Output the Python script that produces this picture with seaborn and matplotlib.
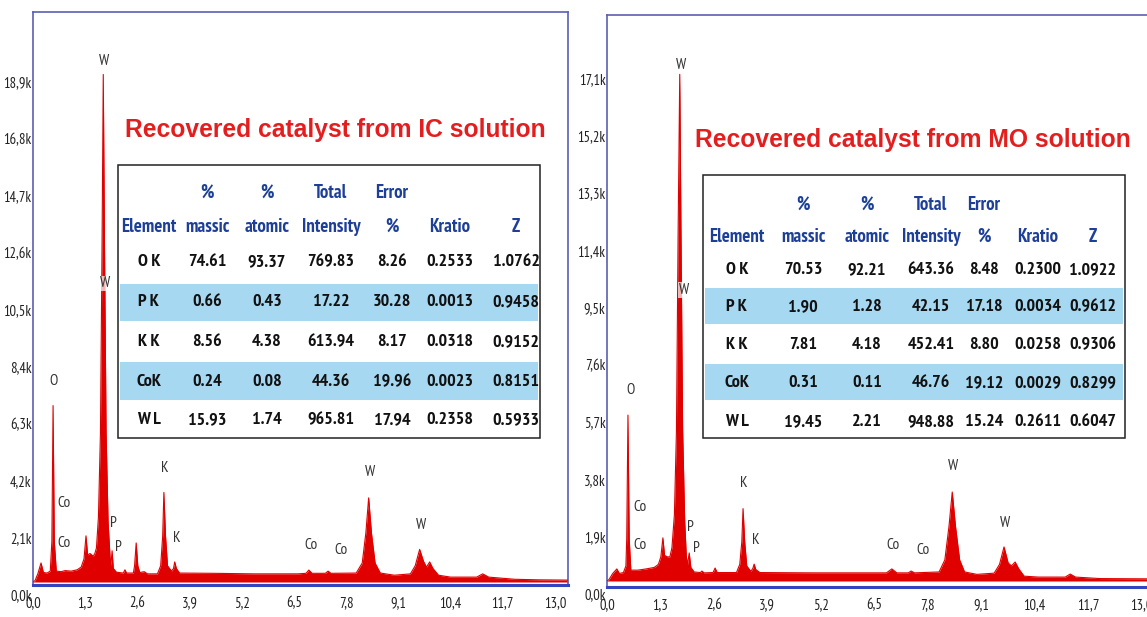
import matplotlib
matplotlib.use("Agg")
import matplotlib.pyplot as plt
import matplotlib.transforms as mtransforms
from matplotlib.patches import Rectangle
import pandas as pd
import seaborn as sns

# ---------------- EDS spectra (energy in keV, counts in thousands) ----------------
ic_energy = [0.00, 0.05, 0.12, 0.20, 0.26, 0.35, 0.43, 0.47, 0.50, 0.53, 0.58, 0.70, 0.80, 0.95,
             1.10, 1.20, 1.27, 1.32, 1.36, 1.42, 1.50, 1.54, 1.58, 1.63, 1.68, 1.72, 1.75, 1.78,
             1.82, 1.87, 1.92, 1.94, 1.97, 2.00, 2.08, 2.25, 2.29, 2.33, 2.50, 2.53, 2.57, 2.61,
             2.66, 2.77, 2.85, 3.10, 3.18, 3.23, 3.26, 3.30, 3.35, 3.45, 3.50, 3.53, 3.57, 3.65,
             4.50, 5.50, 6.60, 6.80, 6.87, 6.95, 7.28, 7.35, 7.42, 8.05, 8.20, 8.29, 8.36, 8.43,
             8.52, 8.65, 9.00, 9.40, 9.52, 9.63, 9.73, 9.80, 9.88, 9.96, 10.10, 10.40, 11.05,
             11.20, 11.35, 12.00, 12.60, 13.32]
ic_counts = [0.00, 0.05, 0.30, 0.70, 0.35, 0.33, 0.40, 1.50, 6.50, 1.50, 0.40, 0.38, 0.42, 0.40,
             0.45, 0.55, 0.85, 1.70, 1.00, 1.05, 0.95, 1.05, 1.25, 2.40, 5.50, 12.5, 18.7, 12.5,
             5.50, 2.20, 0.90, 0.60, 1.15, 0.50, 0.36, 0.33, 0.45, 0.33, 0.33, 0.60, 1.44, 0.60,
             0.35, 0.38, 0.30, 0.30, 0.60, 1.70, 3.30, 1.70, 0.60, 0.40, 0.50, 0.74, 0.50, 0.33,
             0.32, 0.30, 0.30, 0.32, 0.44, 0.32, 0.32, 0.40, 0.32, 0.33, 0.70, 1.80, 3.10, 1.80,
             0.70, 0.33, 0.25, 0.30, 0.60, 1.20, 0.75, 0.55, 0.74, 0.50, 0.25, 0.18, 0.18,
             0.30, 0.18, 0.10, 0.08, 0.07]

mo_energy = [0.00, 0.05, 0.14, 0.24, 0.30, 0.40, 0.46, 0.48, 0.51, 0.54, 0.58, 0.75, 0.95, 1.15,
             1.25, 1.31, 1.36, 1.40, 1.47, 1.53, 1.58, 1.64, 1.69, 1.73, 1.77, 1.80, 1.84, 1.89,
             1.93, 1.96, 2.00, 2.04, 2.12, 2.27, 2.31, 2.36, 2.58, 2.63, 2.68, 3.15, 3.23, 3.28,
             3.31, 3.35, 3.40, 3.50, 3.55, 3.58, 3.62, 3.72, 5.00, 6.80, 6.93, 7.05, 7.33, 7.40,
             7.48, 8.08, 8.22, 8.32, 8.40, 8.48, 8.58, 8.70, 9.00, 9.42, 9.55, 9.66, 9.76, 9.84,
             9.93, 10.02, 10.15, 10.50, 11.15, 11.27, 11.40, 12.00, 13.40]
mo_counts = [0.00, 0.05, 0.25, 0.40, 0.25, 0.28, 0.50, 1.40, 5.50, 1.40, 0.36, 0.36, 0.40, 0.45,
             0.55, 0.80, 1.43, 0.85, 0.80, 0.80, 1.10, 2.20, 5.00, 11.5, 16.8, 11.5, 5.00, 2.00,
             0.80, 0.55, 0.93, 0.45, 0.30, 0.28, 0.33, 0.27, 0.28, 0.43, 0.28, 0.28, 0.55, 1.30,
             2.40, 1.30, 0.50, 0.32, 0.42, 0.56, 0.38, 0.28, 0.27, 0.27, 0.40, 0.27, 0.27, 0.33,
             0.27, 0.30, 0.70, 1.80, 2.95, 1.80, 0.70, 0.30, 0.22, 0.26, 0.55, 1.13, 0.60, 0.50,
             0.63, 0.40, 0.16, 0.13, 0.13, 0.23, 0.13, 0.08, 0.07]

# ---------------- peak identification labels ----------------
ic_peak_names = ["W", "W", "O", "Co", "Co", "P", "P", "K", "K", "Co", "Co", "W", "W"]
ic_peak_energy = [1.77, 1.80, 0.52, 0.77, 0.77, 2.00, 2.12, 3.29, 3.59, 6.92, 7.67, 8.39, 9.66]
ic_peak_height = [19.2, 11.0, 7.4, 2.9, 1.44, 2.17, 1.29, 4.2, 1.62, 1.36, 1.18, 4.05, 2.1]

mo_peak_names = ["W", "W", "O", "Co", "Co", "P", "P", "K", "K", "Co", "Co", "W", "W"]
mo_peak_energy = [1.80, 1.87, 0.56, 0.80, 0.80, 2.04, 2.17, 3.33, 3.63, 6.96, 7.69, 8.42, 9.68]
mo_peak_height = [17.1, 9.65, 6.33, 2.45, 1.19, 1.79, 1.09, 3.25, 1.36, 1.19, 1.03, 3.81, 1.92]

# ---------------- axis ticks ----------------
energy_ticks = [0.0, 1.3, 2.6, 3.9, 5.2, 6.5, 7.8, 9.1, 10.4, 11.7, 13.0]
ic_count_ticks = [0.0, 2.1, 4.2, 6.3, 8.4, 10.5, 12.6, 14.7, 16.8, 18.9]
mo_count_ticks = [0.0, 1.9, 3.8, 5.7, 7.6, 9.5, 11.4, 13.3, 15.2, 17.1]

# ---------------- quantification tables ----------------
table_header_top = ["", "%", "%", "Total", "Error", "", ""]
table_header_bottom = ["Element", "massic", "atomic", "Intensity", "%", "Kratio", "Z"]
elements = ["O K", "P K", "K K", "CoK", "W L"]

ic_massic = [74.61, 0.66, 8.56, 0.24, 15.93]
ic_atomic = [93.37, 0.43, 4.38, 0.08, 1.74]
ic_intensity = [769.83, 17.22, 613.94, 44.36, 965.81]
ic_error = [8.26, 30.28, 8.17, 19.96, 17.94]
ic_kratio = [0.2533, 0.0013, 0.0318, 0.0023, 0.2358]
ic_z = [1.0762, 0.9458, 0.9152, 0.8151, 0.5933]

mo_massic = [70.53, 1.90, 7.81, 0.31, 19.45]
mo_atomic = [92.21, 1.28, 4.18, 0.11, 2.21]
mo_intensity = [643.36, 42.15, 452.41, 46.76, 948.88]
mo_error = [8.48, 17.18, 8.80, 19.12, 15.24]
mo_kratio = [0.2300, 0.0034, 0.0258, 0.0029, 0.2611]
mo_z = [1.0922, 0.9612, 0.9306, 0.8299, 0.6047]

ic_title = "Recovered catalyst from IC solution"
mo_title = "Recovered catalyst from MO solution"

# ---------------- style ----------------
sns.set_theme(style="white")
NARROW = ["PT Sans Narrow", "Roboto Condensed", "DejaVu Sans"]
plt.rcParams["font.family"] = ["Liberation Sans", "DejaVu Sans"]

RED = "#e00000"
FRAME = "#5b5fb0"
AXIS_BLUE = "#3344c0"
HEAD_BLUE = "#1d3f98"
BAND = "#a6d8f2"

W, H = 1147, 617
fig = plt.figure(figsize=(W / 100, H / 100), dpi=100)
fig.patch.set_facecolor("white")


def px_rect(left, top, right, bottom):
    return [left / W, 1 - bottom / H, (right - left) / W, (bottom - top) / H]


def spectrum_panel(rect, energy, counts, xmax, ylim, yticks, names, pe, ph):
    ax = fig.add_axes(rect)
    df = pd.DataFrame({"energy": energy, "counts": counts})
    ax.fill_between(df["energy"], df["counts"], 0, color=RED, lw=0, zorder=2)
    sns.lineplot(data=df, x="energy", y="counts", ax=ax, color=RED, lw=0.8,
                 estimator=None, sort=True, zorder=3)
    ax.set_xlim(0, xmax)
    ax.set_ylim(*ylim)
    ax.set_xlabel("")
    ax.set_ylabel("")
    ax.set_facecolor("white")
    ax.set_xticks(energy_ticks)
    ax.set_xticklabels([f"{v:.1f}".replace(".", ",") for v in energy_ticks])
    ax.set_yticks(yticks)
    ax.set_yticklabels([f"{v:.1f}".replace(".", ",") + "k" for v in yticks])
    ax.tick_params(axis="x", direction="out", length=3, width=0.8, color=AXIS_BLUE,
                   pad=5, labelsize=10.5, labelcolor="#222222")
    ax.tick_params(axis="y", length=0, pad=1, labelsize=10.5, labelcolor="#222222")
    for lab in ax.get_xticklabels() + ax.get_yticklabels():
        lab.set_fontfamily(NARROW)
    # tick labels sit just below their count level, as in the acquisition software
    shift = mtransforms.ScaledTranslation(0, -0.13, fig.dpi_scale_trans)
    for tick in ax.yaxis.get_major_ticks():
        tick.label1.set_transform(tick.label1.get_transform() + shift)
    for side in ["left", "top", "right"]:
        ax.spines[side].set_color(FRAME)
        ax.spines[side].set_linewidth(1.2)
    ax.spines["bottom"].set_color(AXIS_BLUE)
    ax.spines["bottom"].set_linewidth(2.2)
    for i, (name, e, h) in enumerate(zip(names, pe, ph)):
        box = dict(facecolor="white", alpha=0.7, edgecolor="none", pad=0.5) if i == 1 else None
        ax.text(e, h, name, ha="center", va="center", fontsize=11, color="#333333",
                family=NARROW, zorder=4, bbox=box)
    return ax


# left panel: 0 keV at x=33 px, 40.15 px/keV; 0 counts at y=582 px, 27.14 px/k
ax1 = spectrum_panel(px_rect(33, 12, 568, 585), ic_energy, ic_counts,
                     (568 - 33) / 40.15, (-3 / 27.14, 570 / 27.14), ic_count_ticks,
                     ic_peak_names, ic_peak_energy, ic_peak_height)
# right panel: 0 keV at x=607 px, 41.1 px/keV; 0 counts at y=581 px, 30.16 px/k
ax2 = spectrum_panel(px_rect(607, 15, 607 + 13.4 * 41.1, 587), mo_energy, mo_counts,
                     13.4, (-6 / 30.16, 566 / 30.16), mo_count_ticks,
                     mo_peak_names, mo_peak_energy, mo_peak_height)

# overlay in pixel coordinates for titles and tables
ov = fig.add_axes([0, 0, 1, 1], zorder=10)
ov.set_xlim(0, W)
ov.set_ylim(H, 0)
ov.axis("off")
ov.patch.set_alpha(0)


def draw_table(box, head_y, row_y, bands, col_x, columns):
    left, top, right, bottom = box
    ov.add_patch(Rectangle((left, top), right - left, bottom - top, facecolor="white",
                           edgecolor="#222222", lw=1.1))
    for b0, b1 in bands:
        ov.add_patch(Rectangle((left + 2, b0), right - left - 4, b1 - b0, facecolor=BAND,
                               edgecolor="none"))
    for cx, t, b in zip(col_x, table_header_top, table_header_bottom):
        if t:
            ov.text(cx, head_y[0], t, ha="center", va="center", fontsize=13.5,
                    fontweight="bold", color=HEAD_BLUE, family=NARROW)
        ov.text(cx, head_y[1], b, ha="center", va="center", fontsize=13.5,
                fontweight="bold", color=HEAD_BLUE, family=NARROW)
    formats = ["{}", "{:.2f}", "{:.2f}", "{:.2f}", "{:.2f}", "{:.4f}", "{:.4f}"]
    for cx, col, fmt in zip(col_x, columns, formats):
        for ry, val in zip(row_y, col):
            ov.text(cx, ry, fmt.format(val), ha="center", va="center", fontsize=13,
                    fontweight="bold", color="#111111", family=NARROW)


draw_table((118, 165, 540, 438), (193, 227), [262, 302, 342, 382, 420],
           [(284, 321), (362, 400)], [149, 207, 267, 331, 392, 450, 516],
           [elements, ic_massic, ic_atomic, ic_intensity, ic_error, ic_kratio, ic_z])
draw_table((703, 175, 1125, 438), (205, 237), [270, 307, 345, 383, 422],
           [(288, 324), (364, 400)], [737, 803, 867, 931, 984, 1038, 1093],
           [elements, mo_massic, mo_atomic, mo_intensity, mo_error, mo_kratio, mo_z])

ov.text(335, 130, ic_title, ha="center", va="center", fontsize=17.7, fontweight="bold",
        color="#e41e1e")
ov.text(913, 140, mo_title, ha="center", va="center", fontsize=17.7, fontweight="bold",
        color="#e41e1e")

fig.savefig("out.png", dpi=100, facecolor="white")
